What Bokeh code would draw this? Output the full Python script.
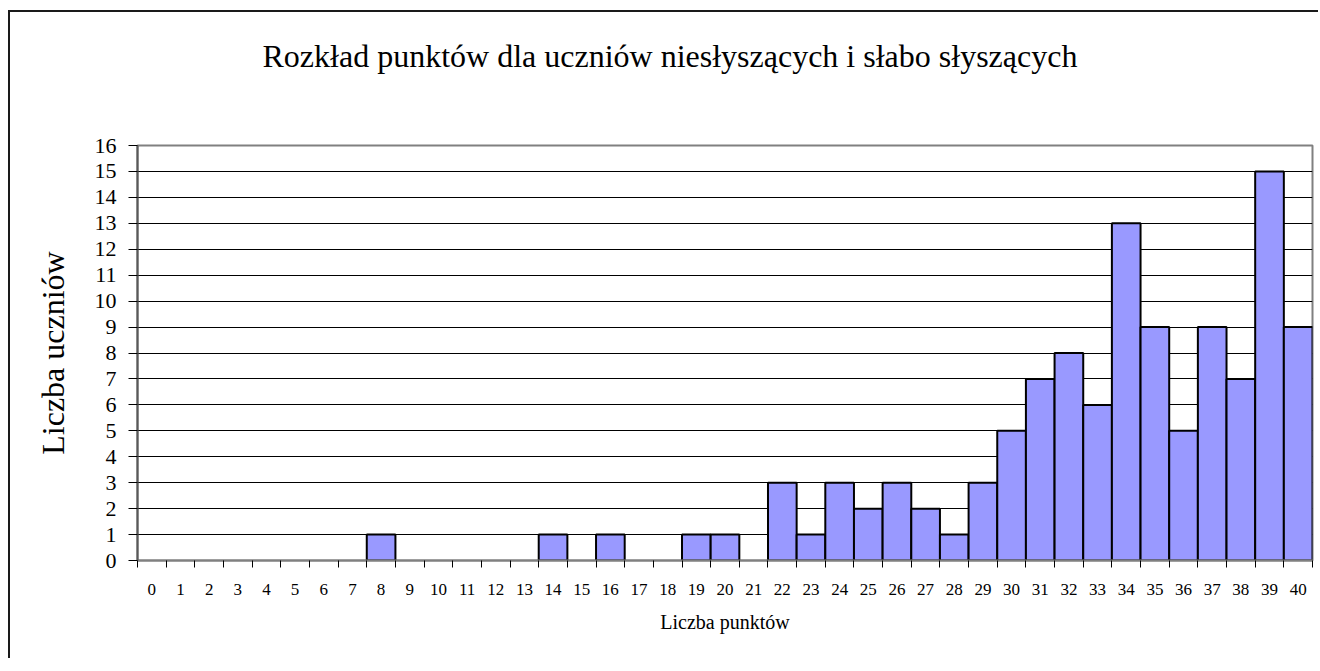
from bokeh.plotting import figure
from bokeh.models import Range1d, FixedTicker, LinearAxis, Grid, Title
from bokeh.embed import file_html
from bokeh.resources import INLINE

# ---- data ----
points = list(range(41))
counts = [0, 0, 0, 0, 0, 0, 0, 0, 1, 0,
          0, 0, 0, 0, 1, 0, 1, 0, 0, 1,
          1, 0, 3, 1, 3, 2, 3, 2, 1, 3,
          5, 7, 8, 6, 13, 9, 5, 9, 7, 15,
          9]
y_ticks = list(range(17))
title_text = "Rozkład punktów dla uczniów niesłyszących i słabo słyszących"
x_title = "Liczba punktów"
y_title = "Liczba uczniów"

FONT = "Liberation Serif"

bx = [x for x, c in zip(points, counts) if c > 0]
bt = [c for c in counts if c > 0]

p = figure(width=1310, height=648, output_backend="svg", toolbar_location=None,
           x_range=Range1d(-0.5, 40.5), y_range=Range1d(0, 16),
           min_border_left=127, min_border_right=8, min_border_top=133,
           min_border_bottom=100,
           x_axis_location=None, y_axis_location=None)
p.styles = {"border-left": "2px solid #1a1a1a", "border-top": "2px solid #1a1a1a",
            "margin-left": "8px", "margin-top": "10px"}
p.background_fill_color = "white"
p.border_fill_color = "white"
p.outline_line_color = "#808080"
p.outline_line_width = 2
for g in p.grid:
    g.visible = False

# y axis
yax = LinearAxis(ticker=FixedTicker(ticks=y_ticks), axis_label=y_title)
yax.axis_line_color = "#595959"
yax.axis_line_width = 2
yax.major_tick_line_color = "black"
yax.major_tick_out = 9
yax.major_tick_in = 0
yax.minor_tick_line_color = None
yax.major_label_standoff = 12
yax.major_label_text_font = FONT
yax.major_label_text_font_size = "22px"
yax.major_label_text_color = "black"
yax.axis_label_text_font = FONT
yax.axis_label_text_font_size = "32px"
yax.axis_label_text_font_style = "normal"
yax.axis_label_text_color = "black"
yax.axis_label_standoff = 21
p.add_layout(yax, "left")

# x axis: tick marks at category boundaries
edges = [x - 0.5 for x in points] + [points[-1] + 0.5]
xax_ticks = LinearAxis(ticker=FixedTicker(ticks=edges))
xax_ticks.axis_line_color = "#808080"
xax_ticks.axis_line_width = 2
xax_ticks.major_tick_line_color = "black"
xax_ticks.major_tick_out = 7
xax_ticks.major_tick_in = 0
xax_ticks.minor_tick_line_color = None
xax_ticks.major_label_text_font_size = "1px"
xax_ticks.major_label_text_color = None
xax_ticks.major_label_standoff = 0
p.add_layout(xax_ticks, "below")

# x axis: labels at category centres
xax = LinearAxis(ticker=FixedTicker(ticks=points), axis_label=x_title)
xax.axis_line_color = None
xax.major_tick_line_color = None
xax.major_tick_out = 0
xax.major_tick_in = 0
xax.minor_tick_line_color = None
xax.major_label_standoff = 16
xax.major_label_text_font = FONT
xax.major_label_text_font_size = "17px"
xax.major_label_text_color = "black"
xax.axis_label_text_font = FONT
xax.axis_label_text_font_size = "20px"
xax.axis_label_text_font_style = "normal"
xax.axis_label_text_color = "black"
xax.axis_label_standoff = 13
p.add_layout(xax, "below")

grid = Grid(dimension=1, ticker=FixedTicker(ticks=y_ticks[1:-1]))
grid.grid_line_color = "black"
grid.grid_line_width = 1
p.add_layout(grid)

p.vbar(x=bx, top=bt, bottom=0, width=1, fill_color="#9999FF",
       line_color="black", line_width=2)

# spacer between frame and title
spacer = Title(text=" ", text_font_size="1px", standoff=64)
p.add_layout(spacer, "above")

p.title.text = title_text
p.title.text_font = FONT
p.title.text_font_size = "32px"
p.title.text_font_style = "normal"
p.title.text_color = "black"
p.title.align = "left"
p.title.offset = 125
p.title.standoff = 10

open("out.html", "w").write(file_html(p, INLINE))
